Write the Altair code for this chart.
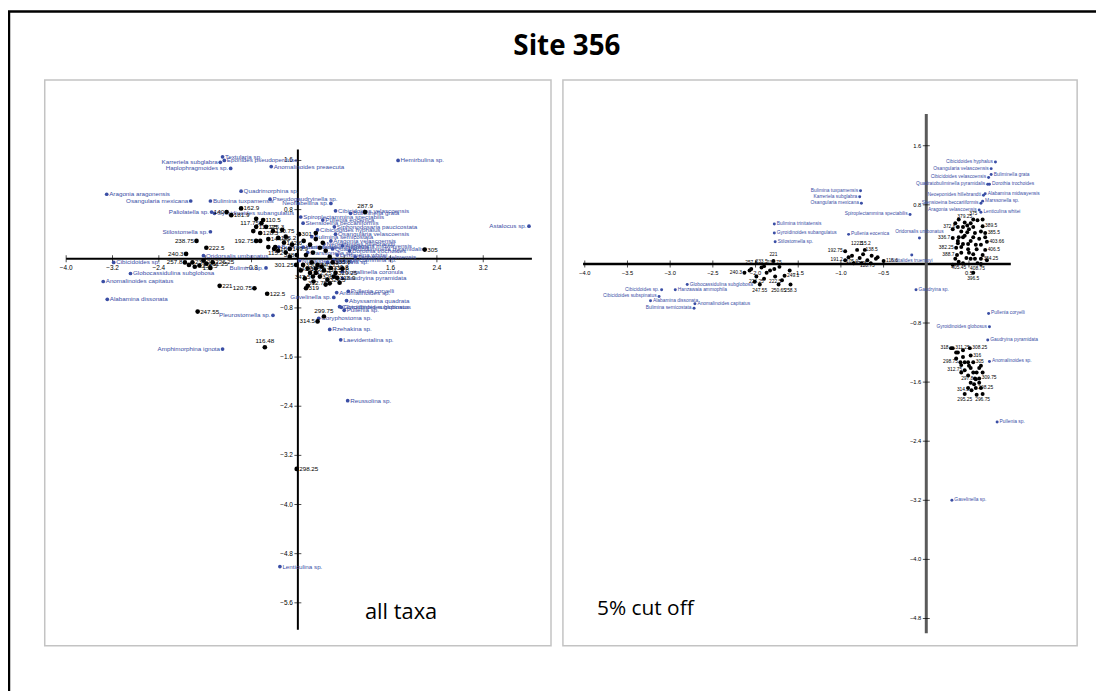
import altair as alt
import pandas as pd

W, H = 1096, 683
BLUE = "#3a4ea5"
NARROW = "Liberation Sans Narrow, Liberation Sans, Arial Narrow, sans-serif"
BIG = "Open Sans"

# ---------------- frame extents (data units) of the two boxes ----------------
L_XDOM = [-4.37, 4.37]
L_YDOM = [-6.30, 2.91]
R_XDOM = [-4.256, 1.767]
R_YDOM = [-5.17, 2.49]
L_XRANGE = [37, 547]
L_YRANGE = [640, 70]
R_XRANGE = [559, 1077]
R_YRANGE = [640, 70]

# axis line extents
L_XAXIS = [-4.0, 4.04]
L_YAXIS = [-6.04, 1.78]
R_XAXIS = [-4.02, 0.99]
R_YAXIS = [-5.0, 2.03]

L_XTICKS = [-4.0, -3.2, -2.4, -1.6, -0.8, 0.8, 1.6, 2.4, 3.2]
L_YTICKS = [1.6, 0.8, -0.8, -1.6, -2.4, -3.2, -4.0, -4.8, -5.6]
R_XTICKS = [-4.0, -3.5, -3.0, -2.5, -2.0, -1.5, -1.0, -0.5, 0.5]
R_YTICKS = [1.6, 0.8, -0.8, -1.6, -2.4, -3.2, -4.0, -4.8]

# ---------------- left panel: all taxa ----------------
L_SP_NAMES = [
    "Karreriela subglabra", "Textularia sp.", "Eponides pseudoperdusa", "Haplophragmoides sp.", "Anomalinoides preaecuta",
    "Aragonia aragonensis", "Osangularia mexicana", "Bulimina tuxpamensis", "Quadrimorphina sp.", "Paliolatella sp.",
    "Gyroidinoides subangulatus", "Stilostomella sp.", "Oridorsalis umbonatus", "Cibicidoides sp.", "Globocassidulina subglobosa",
    "Anomalinoides capitatus", "Alabamina dissonata", "Bulimina sp.", "Pleurostomella sp.", "Amphimorphina ignota",
    "Hemirbulina sp.", "Astalocus sp.", "Pseudogaudryinella sp.", "Neoflabellina sp.", "Reussolina sp.",
    "Lenticulina sp.", "Gavelinella sp.", "Abyssamina quadrata", "Coryphostoma sp.", "Rzehakina sp.",
    "Laevidentalina sp.", "Gaudryina pyramidata", "Nuttallinella coronula", "Anomalinoides sp.", "Pullenia coryelli",
    "Gyroidinoides globosus", "Pullenia sp.", "Nuttalides truempyi", "Spiroplectammina sp.", "Gaudryina sp.",
    "Spiroplectammina spectabilis", "Cibicidoides velascoensis", "Buliminella grata", "Siphonodosaria paucicostata", "Stensioeina beccariiformis",
    "Osangularia velascoensis", "Aragonia velascoensis", "Neoeponides hillebrandti", "Alabamina midwayensis", "Quadratobuliminella pyramidalis",
    "Dorothia trochoides", "Marssonella sp.", "Lenticulina whitei", "Tappanina selmensis", "Bulimina trinitatensis",
    "Cibicidoides hyphalus", "Bulimina semicostata", "Hanzawaia ammophila", "Pullenia eocenica", "Cibicidoides subspinatus",
]
L_SP_X = [
    -1.34, -1.30, -1.27, -1.16, -0.46,
    -3.30, -1.85, -1.51, -0.98, -1.49,
    -1.44, -1.51, -1.63, -3.18, -2.89,
    -3.36, -3.29, -0.55, -0.43, -1.30,
    1.73, 3.99, -0.48, 0.57, 0.86,
    -0.31, 0.62, 0.84, 0.36, 0.55,
    0.74, 0.77, 0.77, 0.67, 0.87,
    0.75, 0.80, 0.03, 0.62, 0.51,
    0.05, 0.65, 0.91, 0.63, 0.09,
    0.65, 0.57, 0.45, 0.77, 0.60,
    0.89, 0.17, 0.68, 0.99, -0.33,
    0.34, 0.24, 0.09, 0.43, 0.72,
]
L_SP_Y = [
    1.57, 1.66, 1.60, 1.47, 1.50,
    1.05, 0.94, 0.94, 1.10, 0.76,
    0.74, 0.44, 0.05, -0.06, -0.24,
    -0.37, -0.66, -0.15, -0.92, -1.47,
    1.60, 0.53, 0.97, 0.90, -2.31,
    -5.01, -0.63, -0.68, -0.97, -1.15,
    -1.32, -0.32, -0.21, -0.55, -0.53,
    -0.79, -0.84, -0.03, -0.02, -0.06,
    0.68, 0.78, 0.74, 0.52, 0.58,
    0.40, 0.29, 0.24, 0.21, 0.16,
    0.13, 0.10, 0.06, 0.03, 0.19,
    0.47, 0.36, 0.19, 0.63, -0.78,
]
L_SP_SIDE = [
    "l", "r", "r", "l", "r",
    "r", "l", "r", "r", "l",
    "r", "l", "r", "r", "r",
    "r", "r", "l", "l", "l",
    "r", "l", "r", "l", "r",
    "r", "l", "r", "r", "r",
    "r", "r", "r", "r", "r",
    "r", "r", "r", "r", "r",
    "r", "r", "r", "r", "r",
    "r", "r", "r", "r", "r",
    "r", "r", "r", "r", "r",
    "r", "r", "r", "r", "r",
]

L_SM_LABELS = [
    "162.9", "140", "181.9", "117.75", "238.75", "222.5", "192.75", "240.3", "115.2", "338",
    "316", "301.7", "287.9", "305", "301.25", "257.8", "236.25", "235.5", "231.25", "226.25",
    "221", "120.75", "122.5", "247.55", "116.48", "298.25", "319", "314.5", "299.75", "347.5",
    "312.75", "343.6",
    "", "", "", "", "", "", "", "", "", "",
    "350.25", "345.9", "340.75", "337.5", "332.6", "329.25", "326.1", "324.5", "318.9", "342.25",
    "335.8", "",
    "125.3", "130.75", "128.5", "135.2", "142.6", "144.25", "149.9", "", "110.5", "112.25",
    "", "", "", "", "", "", "", "", "", "",
    "", "", "", "", "", "", "", "", "",
    "", "", "", "",
]
L_SM_X = [
    -0.98, -1.23, -1.15, -0.63, -1.75, -1.58, -0.72, -1.93, -0.21, -0.02,
    -0.41, 0.02, 1.16, 2.19, -0.03, -1.95, -1.82, -1.70, -1.58, -1.47,
    -1.35, -0.75, -0.53, -1.73, -0.57, -0.02, 0.14, 0.34, 0.45, 0.26,
    0.55, 0.31,
    0.10, 0.21, 0.31, 0.38, 0.48, 0.26, 0.55, 0.14, 0.43, 0.31,
    0.09, 0.17, 0.34, 0.45, 0.57, 0.65, 0.38, 0.51, 0.68, 0.21,
    0.60, 0.27,
    -0.55, -0.43, -0.65, -0.34, -0.24, -0.51, -0.14, -0.39, -0.60, -0.72,
    0.05, 0.12, 0.24, 0.31, 0.41, 0.48, 0.62, 0.72, 0.77, 0.17,
    -0.77, -0.65, -0.51, -0.34, -0.21, -0.10, -0.72, -0.27, -0.14,
    -1.78, -1.63, -1.51, -1.88,
]
L_SM_Y = [
    0.82, 0.76, 0.71, 0.58, 0.29, 0.18, 0.29, 0.08, 0.10, 0.06,
    0.16, 0.40, 0.76, 0.15, -0.10, -0.06, -0.06, -0.11, -0.08, -0.06,
    -0.44, -0.48, -0.57, -0.86, -1.44, -3.42, -0.48, -1.02, -0.94, -0.29,
    -0.40, -0.16,
    0.29, 0.23, 0.32, 0.18, 0.13, 0.10, 0.03, 0.06, 0.26, 0.42,
    -0.10, -0.16, -0.10, -0.19, -0.15, -0.23, -0.29, -0.34, -0.31, -0.23,
    -0.06, -0.37,
    0.52, 0.45, 0.42, 0.34, 0.26, 0.32, 0.16, 0.19, 0.63, 0.52,
    -0.19, -0.32, -0.06, -0.23, -0.13, -0.42, -0.29, -0.39, -0.16, -0.44,
    0.45, 0.29, 0.19, 0.13, 0.36, 0.23, 0.65, 0.47, 0.03,
    -0.13, -0.03, -0.15, -0.10,
]
L_SM_SIDE = [
    "r", "l", "r", "l", "l", "r", "l", "l", "l", "l",
    "r", "r", "a", "r", "l", "l", "r", "r", "r", "r",
    "r", "l", "r", "r", "a", "r", "r", "l", "a", "l",
    "l", "l",
    "r", "r", "r", "r", "r", "r", "r", "r", "r", "r",
    "r", "r", "r", "r", "r", "r", "r", "r", "r", "r",
    "r", "r",
    "r", "r", "r", "r", "r", "r", "r", "r", "r", "r",
    "r", "r", "r", "r", "r", "r", "r", "r", "r", "r",
    "r", "r", "r", "r", "r", "r", "r", "r", "r",
    "r", "r", "r", "r",
]

# ---------------- right panel: 5% cut off ----------------
R_SP_NAMES = [
    "Bulimina trinitatensis", "Gyroidinoides subangulatus", "Stilostomella sp.", "Cibicidoides sp.", "Cibicidoides subspinatus",
    "Globocassidulina subglobosa", "Hanzawaia ammophila", "Alabamina dissonata", "Anomalinoides capitatus", "Bulimina semicostata",
    "Bulimina tuxpamensis", "Karreriela subglabra", "Osangularia mexicana", "Spiroplectammina spectabilis", "Pullenia eocenica",
    "Oridorsalis umbonatus", "Nuttalides truempyi", "Gaudryina sp.", "Cibicidoides hyphalus", "Osangularia velascoensis",
    "Buliminella grata", "Cibicidoides velascoensis", "Quadratobuliminella pyramidalis", "Dorothia trochoides", "Neoeponides hillebrandti",
    "Alabamina midwayensis", "Stensioeina beccariiformis", "Marssonella sp.", "Aragonia velascoensis", "Lenticulina whitei",
    "Pullenia coryelli", "Gyroidinoides globosus", "Gaudryina pyramidata", "Anomalinoides sp.", "Pullenia sp.",
    "Gavelinella sp.",
]
R_SP_X = [
    -1.78, -1.78, -1.77, -3.10, -3.13,
    -2.80, -2.94, -3.23, -2.71, -2.72,
    -0.77, -0.78, -0.76, -0.19, -0.91,
    -0.08, -0.17, -0.12, 0.81, 0.76,
    0.76, 0.73, 0.72, 0.74, 0.67,
    0.69, 0.64, 0.66, 0.62, 0.64,
    0.73, 0.74, 0.72, 0.74, 0.83,
    0.30,
]
R_SP_Y = [
    0.54, 0.42, 0.30, -0.35, -0.44,
    -0.28, -0.35, -0.50, -0.54, -0.60,
    0.99, 0.91, 0.82, 0.67, 0.40,
    0.35, 0.12, -0.35, 1.38, 1.29,
    1.21, 1.17, 1.08, 1.08, 0.93,
    0.95, 0.82, 0.85, 0.73, 0.70,
    -0.67, -0.85, -1.03, -1.32, -2.14,
    -3.20,
]
R_SP_SIDE = [
    "r", "r", "r", "l", "l",
    "r", "r", "r", "r", "l",
    "l", "l", "l", "l", "r",
    "a", "b", "r", "l", "l",
    "r", "l", "l", "r", "l",
    "r", "l", "r", "l", "r",
    "r", "l", "r", "r", "r",
    "r",
]

R_SM_LABELS = [
    "240.3", "257.8", "233.5", "236.75", "221", "224.25", "222.5", "249.1", "247.55", "250.65",
    "258.3", "",
    "192.75", "191.2", "105.9", "122.5", "115.2", "138.5", "117.75", "120.75", "", "116.6", "",
    "372.8", "336.7", "379.25", "375", "389.5", "385.5", "403.66", "406.5", "384.25", "382.25",
    "388.7", "405.45", "408.75", "396.5",
    "", "", "", "", "", "", "", "", "", "", "", "", "", "", "", "", "",
    "318", "311.25", "308.25", "298.75", "312.75", "297.8", "309.75", "314.5", "298.25", "295.25",
    "296.75", "316", "305",
    "", "", "", "", "", "", "", "", "", "", "",
    "", "", "", "", "", "", "", "", "", "", "", "", "", "", "", "", "", "", "", "", "", "", "", "", "",
    "", "", "", "", "", "", "", "", "", "", "", "", "",
    "", "", "", "", "", "", "", "",
    "", "", "", "", "",
]
R_SM_X = [
    -2.13, -2.05, -1.93, -1.78, -1.79, -1.99, -1.77, -1.66, -1.95, -1.73,
    -1.59, -1.87,
    -0.95, -0.95, -0.87, -0.81, -0.72, -0.64, -0.78, -0.69, -0.59, -0.50, -0.74,
    0.37, 0.31, 0.45, 0.55, 0.66, 0.69, 0.71, 0.69, 0.64, 0.35,
    0.36, 0.38, 0.60, 0.55,
    0.41, 0.45, 0.50, 0.57, 0.52, 0.43, 0.49, 0.58, 0.41, 0.55, 0.62, 0.47, 0.43, 0.52, 0.64, 0.48, 0.37,
    0.29, 0.31, 0.51, 0.40, 0.45, 0.58, 0.62, 0.53, 0.58, 0.45,
    0.66, 0.52, 0.55,
    0.37, 0.43, 0.49, 0.52, 0.59, 0.64, 0.49, 0.62, 0.56, 0.41, 0.66,
    0.34, 0.38, 0.52, 0.60, 0.66, 0.31, 0.43, 0.55, 0.69, 0.64, 0.38, 0.48, 0.59, 0.66, 0.34, 0.41,
    0.50, 0.57, 0.31, 0.64, 0.71, 0.43, 0.55, 0.49, 0.37,
    0.35, 0.35, 0.43, 0.45, 0.50, 0.55, 0.62, 0.57, 0.52, 0.64, 0.49, 0.59, 0.41,
    -2.07, -1.90, -1.83, -1.72, -1.60, -1.90, -1.69, -2.01,
    -0.91, -0.85, -0.76, -0.65, -0.57,
]
R_SM_Y = [
    -0.12, -0.07, -0.05, -0.07, 0.04, -0.17, -0.17, -0.16, -0.28, -0.28,
    -0.28, -0.12,
    0.17, 0.05, 0.11, 0.19, 0.19, 0.11, 0.08, 0.05, 0.07, 0.04, 0.13,
    0.50, 0.35, 0.56, 0.60, 0.51, 0.42, 0.30, 0.19, 0.07, 0.22,
    0.12, 0.03, 0.01, -0.12,
    0.44, 0.38, 0.47, 0.42, 0.31, 0.27, 0.20, 0.26, 0.15, 0.13, 0.34, 0.08, 0.01, 0.07, 0.44, 0.52, 0.31,
    -1.14, -1.14, -1.14, -1.33, -1.44, -1.56, -1.55, -1.71, -1.68, -1.76,
    -1.76, -1.24, -1.33,
    -1.20, -1.26, -1.33, -1.41, -1.47, -1.38, -1.51, -1.61, -1.63, -1.37, -1.47,
    0.55, 0.60, 0.55, 0.59, 0.60, 0.47, 0.50, 0.50, 0.36, 0.26, 0.36, 0.43, 0.20, 0.12, 0.07, 0.23,
    0.15, 0.07, -0.01, 0.00, 0.05, 0.36, 0.36, 0.27, 0.28,
    -1.20, -1.28, -1.17, -1.33, -1.38, -1.47, -1.41, -1.55, -1.61, -1.68, -1.68, -1.77, -1.47,
    -0.09, -0.03, -0.09, -0.04, -0.09, -0.20, -0.22, -0.24,
    0.09, 0.01, 0.01, 0.01, 0.09,
]
R_SM_SIDE = [
    "l", "a", "a", "a", "a", "b", "b", "r", "b", "b",
    "b", "r",
    "l", "l", "b", "a", "a", "a", "b", "b", "r", "r", "r",
    "l", "l", "a", "a", "r", "r", "r", "r", "r", "l",
    "l", "b", "b", "b",
    "r", "r", "r", "r", "r", "r", "r", "r", "r", "r", "r", "r", "r", "r", "r", "r", "r",
    "l", "r", "r", "l", "l", "l", "r", "l", "r", "b",
    "b", "r", "r",
    "r", "r", "r", "r", "r", "r", "r", "r", "r", "r", "r",
    "r", "r", "r", "r", "r", "r", "r", "r", "r", "r", "r", "r", "r", "r", "r", "r",
    "r", "r", "r", "r", "r", "r", "r", "r", "r",
    "r", "r", "r", "r", "r", "r", "r", "r", "r", "r", "r", "r", "r",
    "r", "r", "r", "r", "r", "r", "r", "r",
    "r", "r", "r", "r", "r",
]


def panel(sp, sm, xticks, yticks, xaxis, yaxis, xdom, ydom, xr, yr,
          fs, tfs, sp_size, sm_size, xaxis_w, yaxis_w, yaxis_color):
    sx = alt.Scale(domain=xdom, range=xr, nice=False, zero=False)
    sy = alt.Scale(domain=ydom, range=yr, nice=False, zero=False)

    def X(f):
        return alt.X(f, type="quantitative", scale=sx, axis=None)

    def Y(f):
        return alt.Y(f, type="quantitative", scale=sy, axis=None)

    layers = []
    box = pd.DataFrame({"x1": [xdom[0]], "x2": [xdom[1]], "y1": [ydom[0]], "y2": [ydom[1]]})
    layers.append(alt.Chart(box).mark_rect(fillOpacity=0, stroke="#c3c3c3", strokeWidth=1.5)
                  .encode(x=X("x1"), x2="x2", y=Y("y1"), y2="y2"))

    hx = pd.DataFrame({"x1": [xaxis[0]], "x2": [xaxis[1]], "y": [0.0]})
    layers.append(alt.Chart(hx).mark_rule(color="black", strokeWidth=xaxis_w)
                  .encode(x=X("x1"), x2="x2", y=Y("y")))
    vy = pd.DataFrame({"x": [0.0], "y1": [yaxis[0]], "y2": [yaxis[1]]})
    layers.append(alt.Chart(vy).mark_rule(color=yaxis_color, strokeWidth=yaxis_w)
                  .encode(x=X("x"), y=Y("y1"), y2="y2"))

    xt = pd.DataFrame({"t": xticks, "z": [0.0] * len(xticks)})
    yt = pd.DataFrame({"t": yticks, "z": [0.0] * len(yticks)})
    layers.append(alt.Chart(xt).mark_tick(orient="vertical", size=7, thickness=1, color="black")
                  .encode(x=X("t"), y=Y("z")))
    layers.append(alt.Chart(xt).mark_text(dy=9, fontSize=tfs, font=NARROW, color="black")
                  .encode(x=X("t"), y=Y("z"), text=alt.Text("t:Q", format=".1f")))
    layers.append(alt.Chart(yt).mark_tick(orient="horizontal", size=7, thickness=1, color="black")
                  .encode(x=X("z"), y=Y("t")))
    layers.append(alt.Chart(yt).mark_text(dx=-5, align="right", baseline="middle", fontSize=tfs,
                                          font=NARROW, color="black")
                  .encode(x=X("z"), y=Y("t"), text=alt.Text("t:Q", format=".1f")))

    for df, color, size in ((sp, BLUE, sp_size), (sm, "black", sm_size)):
        base = alt.Chart(df)
        layers.append(base.mark_circle(size=size, color=color, opacity=1)
                      .encode(x=X("x"), y=Y("y")))
        for side, kw in (("r", dict(align="left", dx=2.5)),
                         ("l", dict(align="right", dx=-2.5)),
                         ("a", dict(align="center", dy=-6)),
                         ("b", dict(align="center", dy=6))):
            layers.append(base.transform_filter(alt.datum.side == side)
                          .mark_text(baseline="middle", fontSize=fs, font=NARROW, color=color, **kw)
                          .encode(x=X("x"), y=Y("y"), text="label:N"))
    return layers


left_sp = pd.DataFrame({"label": L_SP_NAMES, "x": L_SP_X, "y": L_SP_Y, "side": L_SP_SIDE})
left_sm = pd.DataFrame({"label": L_SM_LABELS, "x": L_SM_X, "y": L_SM_Y, "side": L_SM_SIDE})
right_sp = pd.DataFrame({"label": R_SP_NAMES, "x": R_SP_X, "y": R_SP_Y, "side": R_SP_SIDE})
right_sm = pd.DataFrame({"label": R_SM_LABELS, "x": R_SM_X, "y": R_SM_Y, "side": R_SM_SIDE})

layers = []
# outer black frame
layers.append(alt.Chart(pd.DataFrame({"k": [0]})).mark_rect(fillOpacity=0, stroke="black", strokeWidth=2.5)
              .encode(x=alt.value(1), x2=alt.value(1400), y=alt.value(1), y2=alt.value(1400)))
layers += panel(left_sp, left_sm, L_XTICKS, L_YTICKS, L_XAXIS, L_YAXIS, L_XDOM, L_YDOM,
                L_XRANGE, L_YRANGE, fs=6.3, tfs=6.5, sp_size=14, sm_size=22,
                xaxis_w=2, yaxis_w=2, yaxis_color="black")
layers += panel(right_sp, right_sm, R_XTICKS, R_YTICKS, R_XAXIS, R_YAXIS, R_XDOM, R_YDOM,
                R_XRANGE, R_YRANGE, fs=4.9, tfs=5.8, sp_size=9, sm_size=16,
                xaxis_w=2.5, yaxis_w=3, yaxis_color="#5a5a5a")

texts = pd.DataFrame({"t": ["Site 356", "all taxa", "5% cut off"]})
layers.append(alt.Chart(texts).transform_filter(alt.datum.t == "Site 356")
              .mark_text(font=BIG, fontSize=28, fontWeight="bold", color="black", baseline="middle")
              .encode(x=alt.value(563), y=alt.value(37), text="t:N"))
layers.append(alt.Chart(texts).transform_filter(alt.datum.t == "all taxa")
              .mark_text(font=BIG, fontSize=22, color="black", baseline="middle")
              .encode(x=alt.value(396), y=alt.value(606), text="t:N"))
layers.append(alt.Chart(texts).transform_filter(alt.datum.t == "5% cut off")
              .mark_text(font=BIG, fontSize=21, color="black", baseline="middle")
              .encode(x=alt.value(642), y=alt.value(603), text="t:N"))

chart = (alt.layer(*layers)
         .resolve_scale(x="independent", y="independent")
         .properties(width=W, height=H, autosize=alt.AutoSizeParams(type="none"), padding=0)
         .configure_view(strokeWidth=0))

chart.save("out.html", embed_options={"renderer": "svg", "actions": False})
